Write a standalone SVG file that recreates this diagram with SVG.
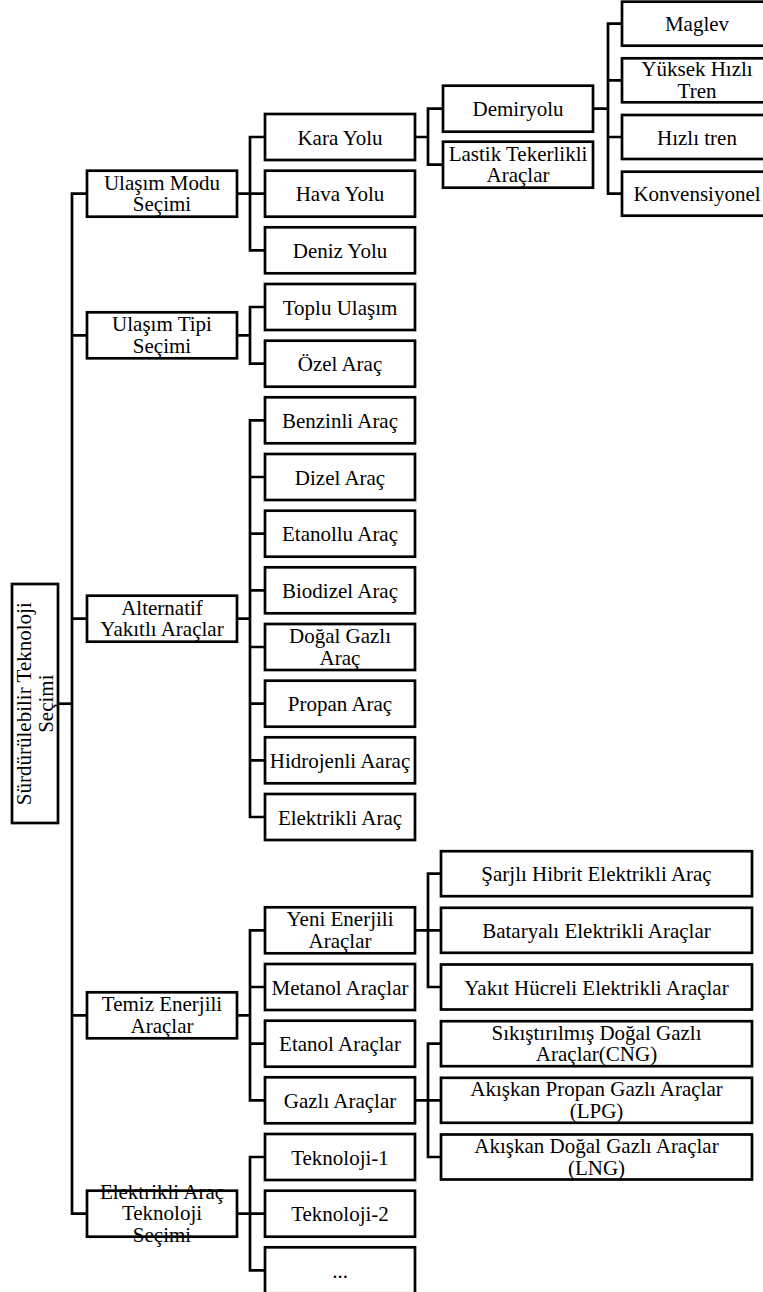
<svg xmlns="http://www.w3.org/2000/svg" width="763" height="1292" viewBox="0 0 763 1292">
  <style>
    .box { fill: #ffffff; stroke: #000000; stroke-width: 2.7; }
    .c { fill: none; stroke: #000000; stroke-width: 2.7; stroke-linejoin: miter; }
    .t { font-family: "Liberation Serif", "Times New Roman", serif; font-size: 21px; text-anchor: middle; fill: #000000; }
  </style>
  <rect x="0" y="0" width="763" height="1292" fill="#ffffff"/>

  <!-- connectors -->
  <g id="connectors">
    <!-- root to trunk -->
    <path class="c" d="M58 703.7 H72"/>
    <path class="c" d="M87 193.7 H72 V1213.7 H87"/>
    <path class="c" d="M72 335.3 H87 M72 618.7 H87 M72 1015.3 H87"/>
    <!-- Ulaşım Modu -->
    <path class="c" d="M237 193.7 H250 M265 137 H250 V250.3 H265 M250 193.7 H265"/>
    <!-- Ulaşım Tipi -->
    <path class="c" d="M237 335.3 H250 M265 307 H250 V363.7 H265"/>
    <!-- Alternatif Yakıtlı Araçlar -->
    <path class="c" d="M237 618.7 H250 M265 420.3 H250 V817 H265 M250 477 H265 M250 533.7 H265 M250 590.3 H265 M250 647 H265 M250 703.7 H265 M250 760.3 H265"/>
    <!-- Temiz Enerjili Araçlar -->
    <path class="c" d="M237 1015.3 H250 M265 930.3 H250 V1100.3 H265 M250 987 H265 M250 1043.7 H265"/>
    <!-- Elektrikli Araç Teknoloji Seçimi -->
    <path class="c" d="M237 1213.7 H250 M265 1157 H250 V1270.3 H265 M250 1213.7 H265"/>
    <!-- Kara Yolu -->
    <path class="c" d="M415 137 H428 M443 108.7 H428 V164.7 H443"/>
    <!-- Demiryolu -->
    <path class="c" d="M593 108.7 H608 M622 23.7 H608 V193.7 H622 M608 80.3 H622 M608 137 H622"/>
    <!-- Yeni Enerjili Araçlar -->
    <path class="c" d="M415 930.3 H428 M441 873.7 H428 V987 H441 M428 930.3 H441"/>
    <!-- Gazlı Araçlar -->
    <path class="c" d="M415 1100.3 H428 M441 1043.7 H428 V1157 H441 M428 1100.3 H441"/>
  </g>

  <!-- root -->
  <g id="n-root">
    <rect class="box" x="12" y="584" width="46" height="239"/>
    <text class="t" transform="translate(35 703.7) rotate(-90)"><tspan x="0" y="-4">Sürdürülebilir Teknoloji</tspan><tspan x="0" y="17.5">Seçimi</tspan></text>
  </g>

  <!-- level 1 -->
  <g id="n-ulasim-modu">
    <rect class="box" x="87" y="170.7" width="150" height="46"/>
    <text class="t"><tspan x="162" y="189.7">Ulaşım Modu</tspan><tspan x="162" y="211.2">Seçimi</tspan></text>
  </g>
  <g id="n-ulasim-tipi">
    <rect class="box" x="87" y="312.3" width="150" height="46"/>
    <text class="t"><tspan x="162" y="331.3">Ulaşım Tipi</tspan><tspan x="162" y="352.8">Seçimi</tspan></text>
  </g>
  <g id="n-alternatif">
    <rect class="box" x="87" y="595.7" width="150" height="46"/>
    <text class="t"><tspan x="162" y="614.7">Alternatif</tspan><tspan x="162" y="636.2">Yakıtlı Araçlar</tspan></text>
  </g>
  <g id="n-temiz">
    <rect class="box" x="87" y="992.3" width="150" height="46"/>
    <text class="t"><tspan x="162" y="1011.3">Temiz Enerjili</tspan><tspan x="162" y="1032.8">Araçlar</tspan></text>
  </g>
  <g id="n-elektrikli-teknoloji">
    <rect class="box" x="87" y="1190.7" width="150" height="46"/>
    <text class="t"><tspan x="162" y="1198.7">Elektrikli Araç</tspan><tspan x="162" y="1220.2">Teknoloji</tspan><tspan x="162" y="1241.7">Seçimi</tspan></text>
  </g>

  <!-- level 2 -->
  <g id="n-kara-yolu"><rect class="box" x="265" y="114" width="150" height="46"/><text class="t" x="340" y="144.5">Kara Yolu</text></g>
  <g id="n-hava-yolu"><rect class="box" x="265" y="170.7" width="150" height="46"/><text class="t" x="340" y="201.2">Hava Yolu</text></g>
  <g id="n-deniz-yolu"><rect class="box" x="265" y="227.3" width="150" height="46"/><text class="t" x="340" y="257.8">Deniz Yolu</text></g>
  <g id="n-toplu"><rect class="box" x="265" y="284" width="150" height="46"/><text class="t" x="340" y="314.5">Toplu Ulaşım</text></g>
  <g id="n-ozel"><rect class="box" x="265" y="340.7" width="150" height="46"/><text class="t" x="340" y="371.2">Özel Araç</text></g>
  <g id="n-benzinli"><rect class="box" x="265" y="397.3" width="150" height="46"/><text class="t" x="340" y="427.8">Benzinli Araç</text></g>
  <g id="n-dizel"><rect class="box" x="265" y="454" width="150" height="46"/><text class="t" x="340" y="484.5">Dizel Araç</text></g>
  <g id="n-etanollu"><rect class="box" x="265" y="510.7" width="150" height="46"/><text class="t" x="340" y="541.2">Etanollu Araç</text></g>
  <g id="n-biodizel"><rect class="box" x="265" y="567.3" width="150" height="46"/><text class="t" x="340" y="597.8">Biodizel Araç</text></g>
  <g id="n-dogal-gazli"><rect class="box" x="265" y="624" width="150" height="46"/><text class="t"><tspan x="340" y="643">Doğal Gazlı</tspan><tspan x="340" y="664.5">Araç</tspan></text></g>
  <g id="n-propan"><rect class="box" x="265" y="680.7" width="150" height="46"/><text class="t" x="340" y="711.2">Propan Araç</text></g>
  <g id="n-hidrojenli"><rect class="box" x="265" y="737.3" width="150" height="46"/><text class="t" x="340" y="767.8">Hidrojenli Aaraç</text></g>
  <g id="n-elektrikli"><rect class="box" x="265" y="794" width="150" height="46"/><text class="t" x="340" y="824.5">Elektrikli Araç</text></g>
  <g id="n-yeni-enerjili"><rect class="box" x="265" y="907.3" width="150" height="46"/><text class="t"><tspan x="340" y="926.3">Yeni Enerjili</tspan><tspan x="340" y="947.8">Araçlar</tspan></text></g>
  <g id="n-metanol"><rect class="box" x="265" y="964" width="150" height="46"/><text class="t" x="340" y="994.5">Metanol Araçlar</text></g>
  <g id="n-etanol"><rect class="box" x="265" y="1020.7" width="150" height="46"/><text class="t" x="340" y="1051.2">Etanol Araçlar</text></g>
  <g id="n-gazli"><rect class="box" x="265" y="1077.3" width="150" height="46"/><text class="t" x="340" y="1107.8">Gazlı Araçlar</text></g>
  <g id="n-teknoloji-1"><rect class="box" x="265" y="1134" width="150" height="46"/><text class="t" x="340" y="1164.5">Teknoloji-1</text></g>
  <g id="n-teknoloji-2"><rect class="box" x="265" y="1190.7" width="150" height="46"/><text class="t" x="340" y="1221.2">Teknoloji-2</text></g>
  <g id="n-diger"><rect class="box" x="265" y="1247.3" width="150" height="46"/><text class="t" x="340" y="1277.8">...</text></g>

  <!-- level 3 -->
  <g id="n-demiryolu"><rect class="box" x="443" y="85.7" width="150" height="46"/><text class="t" x="518" y="116.2">Demiryolu</text></g>
  <g id="n-lastik"><rect class="box" x="443" y="141.7" width="150" height="46"/><text class="t"><tspan x="518" y="160.7">Lastik Tekerlikli</tspan><tspan x="518" y="182.2">Araçlar</tspan></text></g>
  <g id="n-sarjli"><rect class="box" x="441" y="851.2" width="311" height="45"/><text class="t" x="596.5" y="881.2">Şarjlı Hibrit Elektrikli Araç</text></g>
  <g id="n-bataryali"><rect class="box" x="441" y="907.8" width="311" height="45"/><text class="t" x="596.5" y="937.8">Bataryalı Elektrikli Araçlar</text></g>
  <g id="n-yakit-hucreli"><rect class="box" x="441" y="964.5" width="311" height="45"/><text class="t" x="596.5" y="994.5">Yakıt Hücreli Elektrikli Araçlar</text></g>
  <g id="n-cng"><rect class="box" x="441" y="1021.2" width="311" height="45"/><text class="t"><tspan x="596.5" y="1039.7">Sıkıştırılmış Doğal Gazlı</tspan><tspan x="596.5" y="1061.2">Araçlar(CNG)</tspan></text></g>
  <g id="n-lpg"><rect class="box" x="441" y="1077.8" width="311" height="45"/><text class="t"><tspan x="596.5" y="1096.3">Akışkan Propan Gazlı Araçlar</tspan><tspan x="596.5" y="1117.8">(LPG)</tspan></text></g>
  <g id="n-lng"><rect class="box" x="441" y="1134.5" width="311" height="45"/><text class="t"><tspan x="596.5" y="1153">Akışkan Doğal Gazlı Araçlar</tspan><tspan x="596.5" y="1174.5">(LNG)</tspan></text></g>

  <!-- level 4 -->
  <g id="n-maglev"><rect class="box" x="622" y="1.7" width="150" height="44"/><text class="t" x="697" y="31.2">Maglev</text></g>
  <g id="n-yuksek-hizli"><rect class="box" x="622" y="58.3" width="150" height="44"/><text class="t"><tspan x="697" y="76.3">Yüksek Hızlı</tspan><tspan x="697" y="97.8">Tren</tspan></text></g>
  <g id="n-hizli-tren"><rect class="box" x="622" y="115" width="150" height="44"/><text class="t" x="697" y="144.5">Hızlı tren</text></g>
  <g id="n-konvensiyonel"><rect class="box" x="622" y="171.7" width="150" height="44"/><text class="t" x="697" y="201.2">Konvensiyonel</text></g>
</svg>
